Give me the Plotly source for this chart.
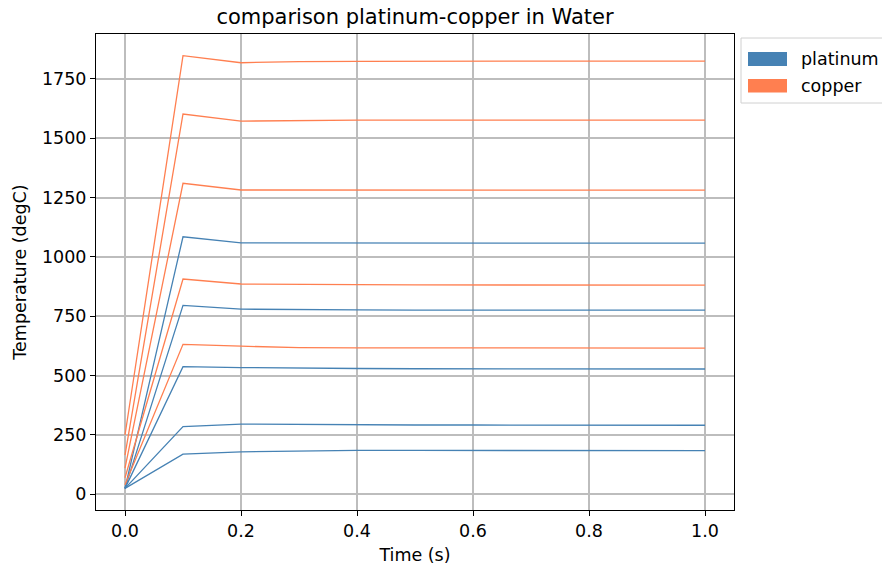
import plotly.graph_objects as go

# Sample times (s)
time = [0.0, 0.1, 0.2, 0.3, 0.4, 0.5, 0.6, 0.7, 0.8, 0.9, 1.0]

# Platinum runs (degC)
platinum_1 = [25, 169, 179, 183, 185, 185, 185, 185, 185, 184, 184]
platinum_2 = [25, 285, 296, 294, 292, 292, 292, 291, 291, 291, 291]
platinum_3 = [25, 538, 534, 531, 530, 529, 529, 529, 528, 528, 528]
platinum_4 = [25, 796, 780, 777, 777, 776, 776, 776, 776, 776, 776]
platinum_5 = [25, 1085, 1059, 1059, 1059, 1058, 1058, 1058, 1058, 1058, 1058]

# Copper runs (degC)
copper_1 = [40, 632, 624, 618, 617, 617, 616, 616, 616, 616, 616]
copper_2 = [70, 907, 886, 883, 883, 882, 882, 881, 881, 881, 881]
copper_3 = [110, 1310, 1282, 1282, 1282, 1282, 1281, 1281, 1281, 1281, 1281]
copper_4 = [165, 1602, 1572, 1575, 1576, 1576, 1576, 1576, 1576, 1576, 1576]
copper_5 = [250, 1848, 1818, 1823, 1824, 1825, 1825, 1825, 1825, 1825, 1825]

platinum_runs = [platinum_1, platinum_2, platinum_3, platinum_4, platinum_5]
copper_runs = [copper_1, copper_2, copper_3, copper_4, copper_5]

PT_COLOR = "#4682B4"
CU_COLOR = "#FF7F50"
FONT = "DejaVu Sans"

fig = go.Figure()
for run in platinum_runs:
    fig.add_trace(go.Scatter(x=time, y=run, mode="lines",
                             line=dict(color=PT_COLOR, width=1.3),
                             showlegend=False, hoverinfo="x+y"))
for run in copper_runs:
    fig.add_trace(go.Scatter(x=time, y=run, mode="lines",
                             line=dict(color=CU_COLOR, width=1.3),
                             showlegend=False, hoverinfo="x+y"))

# Axes box in pixels
W, H = 882, 572
L, R, T, B = 96, 734, 34, 510
pw, ph = R - L, B - T


def px(x):
    return (x - L) / pw


def py(y):
    return 1 - (y - T) / ph


# Legend drawn with patches
shapes = [
    dict(type="rect", xref="paper", yref="paper",
         x0=px(741), x1=px(905), y0=py(103), y1=py(38),
         line=dict(color="#d0d0d0", width=1), fillcolor="rgba(255,255,255,0.8)",
         layer="above"),
    dict(type="rect", xref="paper", yref="paper",
         x0=px(748), x1=px(787), y0=py(66), y1=py(52),
         line=dict(width=0), fillcolor=PT_COLOR, layer="above"),
    dict(type="rect", xref="paper", yref="paper",
         x0=px(748), x1=px(787), y0=py(92.5), y1=py(79),
         line=dict(width=0), fillcolor=CU_COLOR, layer="above"),
]
annotations = [
    dict(text="platinum", xref="paper", yref="paper", x=px(799), y=py(59),
         xanchor="left", yanchor="middle", showarrow=False,
         font=dict(family=FONT, size=17.5, color="black")),
    dict(text="copper", xref="paper", yref="paper", x=px(799), y=py(86),
         xanchor="left", yanchor="middle", showarrow=False,
         font=dict(family=FONT, size=17.5, color="black")),
]

axis_common = dict(
    showline=True, linecolor="black", linewidth=1.1, mirror=True,
    ticks="outside", ticklen=5, tickwidth=1.1, tickcolor="black",
    showgrid=True, gridcolor="#bdbdbd", gridwidth=1.5, zeroline=False,
    tickfont=dict(family=FONT, size=17.5, color="black"),
)

fig.update_layout(
    width=W, height=H,
    margin=dict(l=L, r=W - R, t=T, b=H - B, pad=0),
    paper_bgcolor="white", plot_bgcolor="white",
    font=dict(family=FONT, color="black"),
    title=dict(text="comparison platinum-copper in Water",
               x=(L + R) / 2 / W, xanchor="center", y=1 - 17 / H, yanchor="middle",
               font=dict(family=FONT, size=21, color="black")),
    xaxis=dict(range=[-0.05, 1.05], tickvals=[0, 0.2, 0.4, 0.6, 0.8, 1.0],
               ticktext=["0.0", "0.2", "0.4", "0.6", "0.8", "1.0"],
               title=dict(text="Time (s)", standoff=8,
                          font=dict(family=FONT, size=17.5, color="black")),
               **axis_common),
    yaxis=dict(range=[-66, 1939],
               tickvals=[0, 250, 500, 750, 1000, 1250, 1500, 1750],
               title=dict(text="Temperature (degC)", standoff=10,
                          font=dict(family=FONT, size=17.5, color="black")),
               **axis_common),
    shapes=shapes,
    annotations=annotations,
)

fig.write_html("out.html")
